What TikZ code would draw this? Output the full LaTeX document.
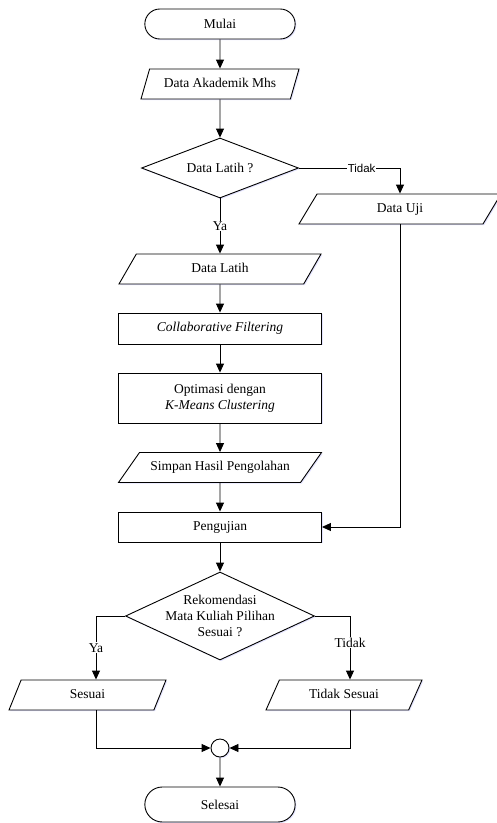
\documentclass[tikz,border=0pt]{standalone}
\usepackage{fontspec}
\setmainfont{Liberation Serif}
\newfontfamily\labelsans{Liberation Sans}
\usetikzlibrary{shapes.geometric,shapes.misc,arrows.meta,shadows}

\begin{document}
\begin{tikzpicture}[x=1pt, y=-1pt, line width=0.9pt,
      font=\fontsize{13.5}{16.3}\selectfont,
      shape shadow/.style={drop shadow={shadow xshift=1.2pt, shadow yshift=-1.2pt,
        fill=blue!60, opacity=0.18}},
      terminal/.style={rounded rectangle, draw, fill=white, shape shadow,
        minimum width=157pt, minimum height=30pt},
      process/.style={rectangle, draw, fill=white, shape shadow, align=center,
        minimum width=203pt, minimum height=30pt},
      io/.style={trapezium, trapezium left angle=#1, trapezium right angle=180-#1,
        trapezium stretches body, draw, fill=white, shape shadow,
        text height=9.7pt, text depth=3pt, inner ysep=8.65pt},
      decision/.style={diamond, draw, fill=white, shape shadow, align=center, inner sep=0pt},
      junction/.style={circle, draw, fill=white, shape shadow, minimum size=18pt, inner sep=0pt},
      flow/.style={-{Triangle[length=9pt, width=8pt]}},
      answer/.style={fill=white, inner sep=1pt}]
  \useasboundingbox (0,0) rectangle (496,823);

  \node[terminal] (mulai) at (220,24) {Mulai};
  \node[io=74, minimum width=158pt] (akademik) at (220,84) {Data Akademik Mhs};
  \node[decision, aspect=2.6, minimum width=157pt, minimum height=60pt] (cek) at (220,168) {Data Latih ?};
  \node[io=59, minimum width=202pt] (uji) at (400,209) {Data Uji};
  \node[io=60, minimum width=202pt] (latih) at (220,269) {Data Latih};
  \node[process, minimum height=31pt] (collab) at (220,328.5) {\textit{Collaborative Filtering}};
  \node[process, minimum height=50pt] (optimasi) at (220,398) {Optimasi dengan\\\textit{K-Means Clustering}};
  \node[io=55, minimum width=203pt] (simpan) at (220,467.5) {Simpan Hasil Pengolahan};
  \node[process] (pengujian) at (220,527) {Pengujian};
  \node[decision, aspect=2.15, inner sep=-6pt, minimum width=189pt, minimum height=88pt] (cek2) at (220,616)
    {Rekomendasi\\Mata Kuliah Pilihan\\Sesuai ?};
  \node[io=68, minimum width=157pt] (sesuai) at (87.5,695) {Sesuai};
  \node[io=66, minimum width=156pt] (tdksesuai) at (344,695) {Tidak Sesuai};
  \node[junction] (gabung) at (220,748) {};
  \node[terminal, minimum height=35pt] (selesai) at (220,804.5) {Selesai};

  \draw[flow] (mulai) -- (akademik);
  \draw[flow] (akademik) -- (cek);
  \draw[flow] (cek) -- node[answer] {Ya} (latih);
  \draw[flow] (cek.east) -| node[answer, pos=0.31, font=\labelsans\fontsize{11.5}{13}\selectfont] {Tidak} (uji.north);
  \draw[flow] (latih) -- (collab);
  \draw[flow] (collab) -- (optimasi);
  \draw[flow] (optimasi) -- (simpan);
  \draw[flow] (simpan) -- (pengujian);
  \draw[flow] (uji.south) |- (pengujian.east);
  \draw[flow] (pengujian) -- (cek2);
  \draw[flow] (cek2.west) -| node[answer, pos=0.75] {Ya} ([xshift=8.5pt]sesuai.north);
  \draw[flow] (cek2.east) -| node[answer, pos=0.71] {Tidak} ([xshift=6pt]tdksesuai.north);
  \draw[flow] ([xshift=8.5pt]sesuai.south) |- (gabung.west);
  \draw[flow] ([xshift=6pt]tdksesuai.south) |- (gabung.east);
  \draw[flow] (gabung) -- (selesai);
\end{tikzpicture}
\end{document}
